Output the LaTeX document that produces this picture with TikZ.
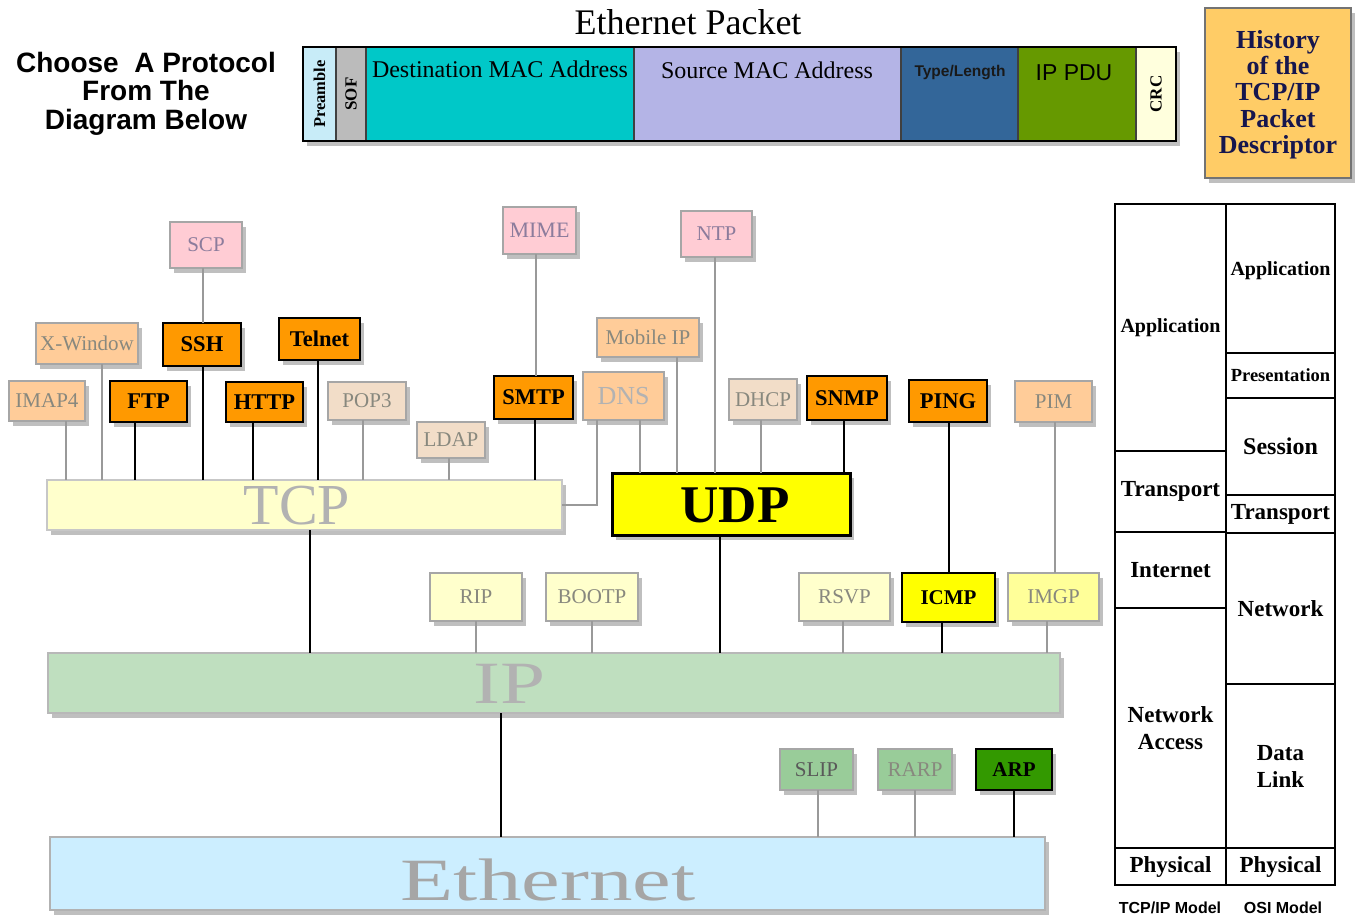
\documentclass[tikz,border=0pt]{standalone}
\usepackage{fontspec}
\setmainfont{Liberation Serif}
\newfontfamily\sansf{Liberation Sans}
\usetikzlibrary{shadows}
\definecolor{cPeach}{HTML}{FFCC99}
\definecolor{cBeige}{HTML}{F2DDC8}
\definecolor{cPink}{HTML}{FFCCD4}
\definecolor{cPinkTxt}{HTML}{8C7C9C}
\definecolor{cLYel}{HTML}{FFFFCC}
\definecolor{cIMGP}{HTML}{FFFF99}
\definecolor{cOrange}{HTML}{FF9900}
\definecolor{cYellow}{HTML}{FFFF00}
\definecolor{cSlip}{HTML}{99CC99}
\definecolor{cArp}{HTML}{339900}
\definecolor{cTCP}{HTML}{FFFFCC}
\definecolor{cIP}{HTML}{BFDFBF}
\definecolor{cEth}{HTML}{CCEEFF}
\definecolor{cHist}{HTML}{FFCC66}
\definecolor{cHistTxt}{HTML}{16164E}
\definecolor{cPre}{HTML}{C8ECF8}
\definecolor{cSOF}{HTML}{BBBBBB}
\definecolor{cDest}{HTML}{00C8C8}
\definecolor{cSrc}{HTML}{B4B4E6}
\definecolor{cType}{HTML}{336699}
\definecolor{cPDU}{HTML}{669900}
\definecolor{cCRC}{HTML}{FFFFDD}
\definecolor{cFade}{HTML}{88887E}
\newcommand{\pbx}[7]{\node[#2, minimum width={(#5)-(#3)}, minimum height={(#6)-(#4)}] (#1) at ({((#3)+(#5))/2},{((#4)+(#6))/2}) {#7};}
\newcommand{\vconn}[4]{\coordinate (c#2#4) at ([xshift=#3pt]#2.south);
  \draw[#1] (c#2#4) -- (c#2#4 |- #4.north);}
\begin{document}
\begin{tikzpicture}[x=1pt,y=-1pt,
  base/.style={inner sep=0pt, outer sep=0pt, align=center},
  shd/.style={drop shadow={shadow xshift=4pt, shadow yshift=-5pt, opacity=0.25, fill=black}},
  soft/.style={base, shd, draw=black!35, line width=1.6pt, text=cFade, font=\fontsize{21}{24}\selectfont},
  peach/.style={soft, fill=cPeach},
  beige/.style={soft, fill=cBeige},
  pinkb/.style={soft, fill=cPink, text=cPinkTxt},
  lyel/.style={soft, fill=cLYel},
  strong/.style={base, shd, draw=black, line width=2.4pt, text=black, font=\fontsize{22.5}{24}\selectfont\bfseries},
  orng/.style={strong, fill=cOrange},
  gline/.style={draw=black!40, line width=1.9pt},
  bline/.style={draw=black, line width=2.8pt},
  cell/.style={base, draw=black, line width=1.8pt, font=\fontsize{23}{27}\selectfont\bfseries},
  seg/.style={base, draw=black!75, line width=1.2pt}]
\useasboundingbox[fill=white] (0,0) rectangle (1359,916);

% ---------- header ----------
\node[base, anchor=north, font=\sansf\bfseries\fontsize{28}{28.5}\selectfont] (choose) at (146,52) {Choose\ \ A Protocol\\From The\\Diagram Below};
\node[base, anchor=base, font=\fontsize{36}{38}\selectfont] (etitle) at (688,34) {Ethernet Packet};

\pbx{pkt}{base,shd,draw=black,line width=2pt,fill=white}{303}{47}{1176}{141}{}
\pbx{pre}{seg,fill=cPre}{303}{47}{336}{141}{}
\pbx{sof}{seg,fill=cSOF}{336}{47}{366}{141}{}
\pbx{dmac}{seg,fill=cDest}{366}{47}{634}{141}{}
\pbx{smac}{seg,fill=cSrc}{634}{47}{901}{141}{}
\pbx{tl}{seg,fill=cType}{901}{47}{1018}{141}{}
\pbx{pdu}{seg,fill=cPDU}{1018}{47}{1136}{141}{}
\pbx{crc}{seg,fill=cCRC}{1136}{47}{1176}{141}{}
\draw[line width=2pt] (pkt.north west) rectangle (pkt.south east);
\node[base, rotate=90, font=\fontsize{16.5}{18}\selectfont\bfseries] (preT) at (pre.center) {Preamble};
\node[base, rotate=90, font=\fontsize{17}{18}\selectfont\bfseries] (sofT) at (sof.center) {SOF};
\node[base, rotate=90, font=\fontsize{17}{18}\selectfont\bfseries] (crcT) at (crc.center) {CRC};
\node[base, anchor=base, font=\fontsize{24}{26}\selectfont] (dmacT) at (500,77) {Destination MAC Address};
\node[base, anchor=base, font=\fontsize{24}{26}\selectfont] (smacT) at (767,78) {Source MAC Address};
\node[base, anchor=base, text=black!90, font=\sansf\bfseries\fontsize{15.5}{17}\selectfont] (tlT) at (960,76) {Type/Length};
\node[base, anchor=base, font=\sansf\fontsize{23}{25}\selectfont] (pduT) at (1074,80) {IP PDU};

\pbx{hist}{base,shd,draw=black!55,line width=1.6pt,fill=cHist}{1205}{8}{1351}{178}{}
\node[base, anchor=north, text=cHistTxt, font=\fontsize{26}{26.4}\selectfont\bfseries] (histT) at (1278,30) {History\\of the\\TCP/IP\\Packet\\Descriptor};

% ---------- protocol boxes ----------
\pbx{scp}{pinkb}{170}{222}{242}{268}{SCP}
\pbx{mime}{pinkb,font=\fontsize{22}{24}\selectfont}{503}{207}{576}{254}{MIME}
\pbx{ntp}{pinkb}{681}{211}{752}{257}{NTP}
\pbx{xwin}{peach}{36}{323}{138}{364}{X-Window}
\pbx{ssh}{orng}{163}{323}{241}{366}{SSH}
\pbx{telnet}{orng}{279}{318}{360}{360}{Telnet}
\pbx{mobip}{peach}{597}{318}{699}{357}{Mobile IP}
\pbx{imap}{peach}{9}{381}{85}{421}{IMAP4}
\pbx{ftp}{orng}{110}{381}{187}{422}{FTP}
\pbx{http}{orng}{226}{382}{303}{422}{HTTP}
\pbx{pop}{beige}{328}{382}{406}{420}{POP3}
\pbx{ldap}{beige}{417}{422}{485}{458}{LDAP}
\pbx{smtp}{orng}{494}{376}{573}{419}{SMTP}
\pbx{dns}{peach,text=black!30,font=\fontsize{26}{28}\selectfont}{583}{372}{664}{420}{DNS}
\pbx{dhcp}{beige}{729}{379}{797}{420}{DHCP}
\pbx{snmp}{orng}{807}{376}{887}{420}{SNMP}
\pbx{ping}{orng}{909}{380}{987}{422}{PING}
\pbx{pim}{peach}{1015}{381}{1092}{422}{PIM}

\pbx{tcp}{base,shd,draw=black!22,line width=2pt,fill=cTCP}{47}{480}{562}{530}{}
\node[base, text=black!30, font=\fontsize{58}{60}\selectfont] (tcpT) at (297,506) {TCP};
\pbx{udp}{base,shd,draw=black,line width=3pt,fill=cYellow}{612}{473}{850}{535}{}
\node[base, font=\fontsize{53}{56}\selectfont\bfseries] (udpT) at (735,505) {UDP};

\pbx{rip}{lyel}{430}{573}{522}{621}{RIP}
\pbx{bootp}{lyel}{546}{573}{638}{621}{BOOTP}
\pbx{rsvp}{lyel}{799}{573}{890}{621}{RSVP}
\pbx{icmp}{strong,fill=cYellow,font=\fontsize{21}{23}\selectfont\bfseries}{902}{573}{995}{622}{ICMP}
\pbx{imgp}{soft,fill=cIMGP}{1008}{573}{1099}{621}{IMGP}

\pbx{ip}{base,shd,draw=black!28,line width=2pt,fill=cIP}{48}{653}{1060}{713}{}
\node[base, text=black!30, font=\fontsize{60}{62}\selectfont] (ipT) at (510,684) {\scalebox{1.35}[1]{IP}};

\pbx{slip}{soft,fill=cSlip,text=black!65}{780}{749}{853}{790}{SLIP}
\pbx{rarp}{soft,fill=cSlip}{878}{749}{952}{790}{RARP}
\pbx{arp}{strong,fill=cArp,font=\fontsize{21}{23}\selectfont\bfseries}{976}{749}{1052}{790}{ARP}

\pbx{eth}{base,shd,draw=black!30,line width=2pt,fill=cEth}{50}{837}{1045}{910}{}
\node[base, text=black!35, font=\fontsize{60}{62}\selectfont] (ethT) at (548,880) {\scalebox{1.45}[1]{Ethernet}};

% ---------- connectors ----------
\vconn{gline}{scp}{-3}{ssh}
\vconn{gline}{xwin}{15}{tcp}
\vconn{bline}{ssh}{1}{tcp}
\vconn{bline}{telnet}{-1.5}{tcp}
\vconn{gline}{imap}{19}{tcp}
\vconn{bline}{ftp}{-13.5}{tcp}
\vconn{bline}{http}{-11.5}{tcp}
\vconn{gline}{pop}{-4}{tcp}
\vconn{gline}{ldap}{-2}{tcp}
\vconn{bline}{smtp}{1.5}{tcp}
\vconn{gline}{mime}{-3.5}{smtp}
\coordinate (dnsL) at ([xshift=-26.5pt]dns.south);
\draw[gline] (dnsL) |- (tcp.east);
\vconn{gline}{dns}{16.5}{udp}
\vconn{gline}{mobip}{29}{udp}
\vconn{gline}{ntp}{-1.5}{udp}
\vconn{gline}{dhcp}{-2}{udp}
\vconn{bline}{snmp}{-3}{udp}
\vconn{bline}{tcp}{5.5}{ip}
\vconn{bline}{udp}{-11}{ip}
\vconn{gline}{rip}{0}{ip}
\vconn{gline}{bootp}{0}{ip}
\vconn{gline}{rsvp}{-1.5}{ip}
\vconn{bline}{icmp}{-6.5}{ip}
\vconn{gline}{imgp}{-6.5}{ip}
\vconn{bline}{ping}{1}{icmp}
\vconn{gline}{pim}{1.5}{imgp}
\vconn{bline}{ip}{-53}{eth}
\vconn{gline}{slip}{1.5}{eth}
\vconn{gline}{rarp}{0}{eth}
\vconn{bline}{arp}{0}{eth}

% ---------- model table ----------
\pbx{tapp}{cell,font=\fontsize{20}{22}\selectfont\bfseries}{1115}{204}{1226}{451}{Application}
\pbx{ttra}{cell}{1115}{451}{1226}{532}{Transport}
\pbx{tint}{cell}{1115}{532}{1226}{608}{Internet}
\pbx{tnac}{cell}{1115}{608}{1226}{848}{Network\\Access}
\pbx{tphy}{cell}{1115}{848}{1226}{885}{Physical}
\pbx{oapp}{cell,font=\fontsize{20}{22}\selectfont\bfseries}{1226}{204}{1335}{353}{Application\\[-2pt]\mbox{}}
\pbx{opre}{cell,font=\fontsize{18.5}{20}\selectfont\bfseries}{1226}{353}{1335}{398}{Presentation}
\pbx{oses}{cell,font=\fontsize{24}{26}\selectfont\bfseries}{1226}{398}{1335}{495}{Session}
\pbx{otra}{cell}{1226}{495}{1335}{533}{Transport}
\pbx{onet}{cell}{1226}{533}{1335}{684}{Network}
\pbx{odl}{cell}{1226}{684}{1335}{848}{Data\\Link}
\pbx{ophy}{cell}{1226}{848}{1335}{885}{Physical}
\node[base, anchor=base, font=\sansf\bfseries\fontsize{16}{17}\selectfont] (tcpipM) at (1170,913) {TCP/IP Model};
\node[base, anchor=base, font=\sansf\bfseries\fontsize{16}{17}\selectfont] (osiM) at (1283,913) {OSI Model};
\end{tikzpicture}
\end{document}
